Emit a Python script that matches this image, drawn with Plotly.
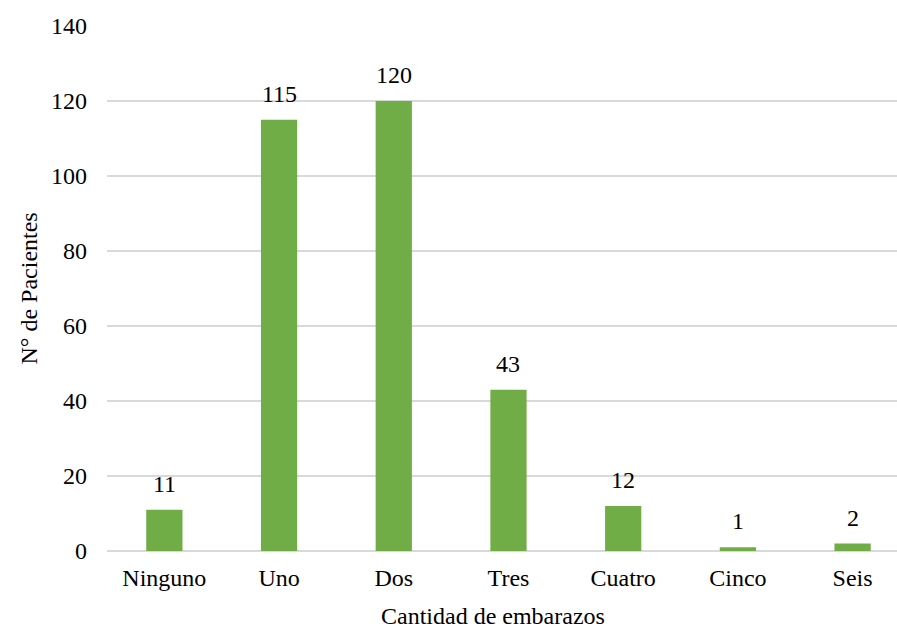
import plotly.graph_objects as go

# Number of patients by number of pregnancies
categorias = ["Ninguno", "Uno", "Dos", "Tres", "Cuatro", "Cinco", "Seis"]
pacientes = [11, 115, 120, 43, 12, 1, 2]
y_ticks = [0, 20, 40, 60, 80, 100, 120, 140]

FONT = "Liberation Serif, Times New Roman, serif"
SIZE = 24
GREEN = "#70AD47"
GRID = "#D9D9D9"

fig = go.Figure(
    go.Bar(
        x=list(range(len(categorias))),
        y=pacientes,
        marker=dict(color=GREEN, line=dict(width=0)),
        width=0.316,
        hoverinfo="skip",
    )
)

# Value labels above each bar
for i, v in enumerate(pacientes):
    fig.add_annotation(
        x=i, y=v, text=str(v), showarrow=False,
        yanchor="bottom", yshift=11,
        font=dict(family=FONT, size=SIZE, color="black"),
    )

# Axis titles
fig.add_annotation(
    xref="paper", yref="paper", x=-0.1, y=0.5, xanchor="center", yanchor="middle",
    text="N° de Pacientes", textangle=-90, showarrow=False,
    font=dict(family=FONT, size=SIZE, color="black"),
)
fig.add_annotation(
    xref="paper", yref="paper", x=0.488, y=-0.1245, xanchor="center", yanchor="middle",
    text="Cantidad de embarazos", showarrow=False,
    font=dict(family=FONT, size=SIZE, color="black"),
)

fig.update_layout(
    width=897, height=628,
    margin=dict(l=107, r=0, t=26, b=77),
    paper_bgcolor="white", plot_bgcolor="white",
    showlegend=False,
    font=dict(family=FONT, size=SIZE, color="black"),
    xaxis=dict(
        tickmode="array",
        tickvals=list(range(len(categorias))),
        ticktext=categorias,
        range=[-0.5, 6.387],
        showgrid=False, zeroline=False, showline=False,
        ticks="", ticklabelstandoff=10,
        tickfont=dict(family=FONT, size=SIZE, color="black"),
        fixedrange=True,
    ),
    yaxis=dict(
        range=[0, 140],
        tickmode="array",
        tickvals=y_ticks,
        showgrid=True, gridcolor=GRID, gridwidth=1.5,
        zeroline=True, zerolinecolor=GRID, zerolinewidth=1.5,
        showline=False, ticks="", ticklabelstandoff=19,
        tickfont=dict(family=FONT, size=SIZE, color="black"),
        fixedrange=True,
    ),
)

fig.write_html("out.html", config={"displayModeBar": False})
